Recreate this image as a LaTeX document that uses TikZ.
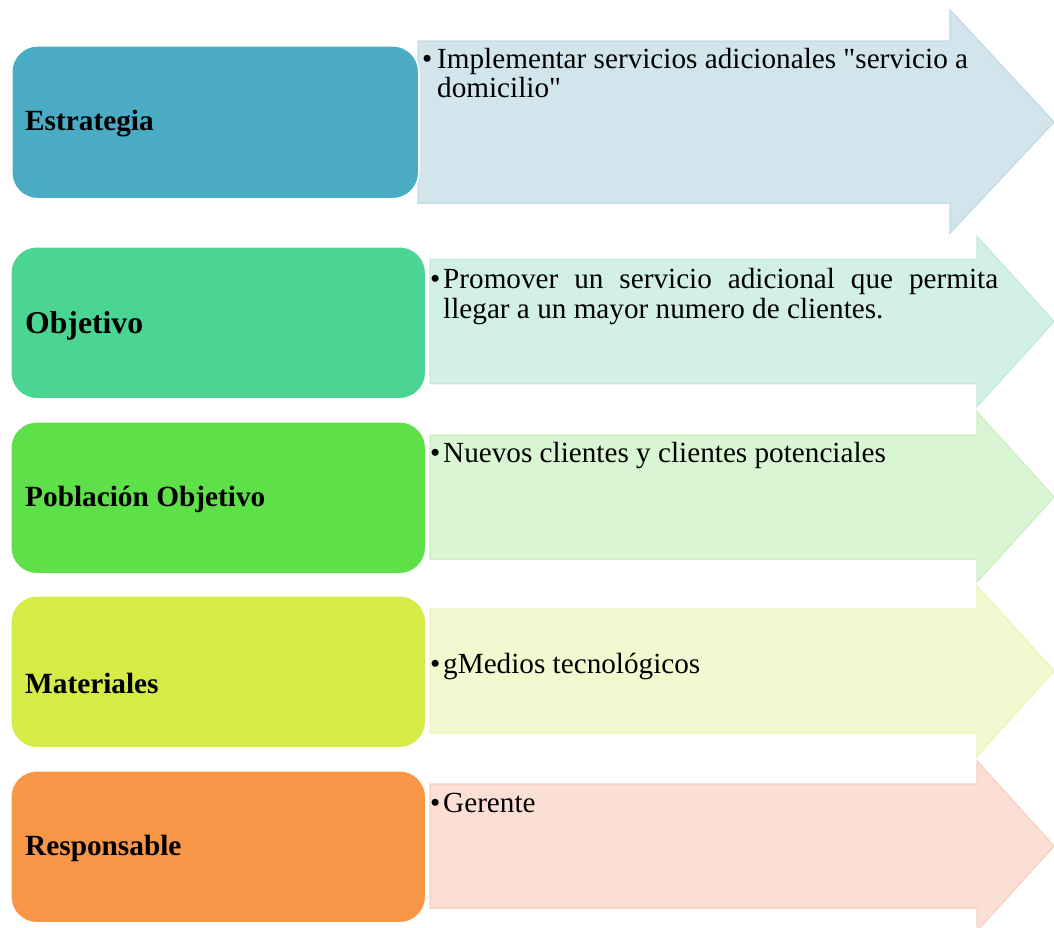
\documentclass[tikz,border=0pt]{standalone}
\usepackage{fontspec}
\setmainfont{Liberation Serif}[Ligatures=TeXOff]
% row colours: strong box colour and pale arrow colour
\definecolor{boxA}{HTML}{4AABC5}\definecolor{arrA}{HTML}{D2E4EC}\definecolor{edgeA}{HTML}{C6DDE8}
\definecolor{boxB}{HTML}{4AD592}\definecolor{arrB}{HTML}{D3F0E4}\definecolor{edgeB}{HTML}{C6EBDB}
\definecolor{boxC}{HTML}{5EE048}\definecolor{arrC}{HTML}{D9F5D3}\definecolor{edgeC}{HTML}{CDF1C5}
\definecolor{boxD}{HTML}{D5EC47}\definecolor{arrD}{HTML}{F4F8D0}\definecolor{edgeD}{HTML}{EEF4BE}
\definecolor{boxE}{HTML}{F79646}\definecolor{arrE}{HTML}{FBDFD4}\definecolor{edgeE}{HTML}{F8D3C3}
\begin{document}
\begin{tikzpicture}[x=1pt,y=-1pt,
  labelbox/.style={draw=white, line width=1.5pt, rounded corners=26pt,
    anchor=north west, inner sep=0pt, minimum width=415pt, minimum height=152pt},
  bigarrow/.style={line width=1.5pt, line join=miter},
  lbl/.style={anchor=base west, inner sep=0pt, font=\fontsize{29.3}{30}\selectfont\bfseries},
  txt/.style={anchor=base west, inner sep=0pt, font=\fontsize{29.2}{30}\selectfont},
  bul/.style={anchor=base west, inner sep=0pt, font=\fontsize{29.2}{30}\selectfont},
  ]
\useasboundingbox (0,0) rectangle (1054,927);

% ---- arrows ----
\filldraw[bigarrow, fill=arrA, draw=edgeA]
  (418,41) -- (950,41) -- (950,10) -- (1054,122) -- (950,233) -- (950,203) -- (418,203) -- cycle;
\foreach \c/\f/\e in {321.5/arrB/edgeB, 497/arrC/edgeC, 671/arrD/edgeD, 846/arrE/edgeE}{
  \filldraw[bigarrow, fill=\f, draw=\e]
    (430,\c-62) -- (977,\c-62) -- (977,\c-85) -- (1054,\c) -- (977,\c+85)
    -- (977,\c+62) -- (430,\c+62) -- cycle;
}

% ---- label boxes ----
\node[labelbox, fill=boxA, minimum width=407pt, minimum height=153pt] (b1) at (11,45) {};
\node[labelbox, fill=boxB] (b2) at (10,246) {};
\node[labelbox, fill=boxC] (b3) at (10,421) {};
\node[labelbox, fill=boxD] (b4) at (10,595) {};
\node[labelbox, fill=boxE] (b5) at (10,770) {};

\node[lbl] (l1) at (25,130) {Estrategia};
\node[lbl, font=\fontsize{31.7}{32}\selectfont\bfseries] (l2) at (25,333) {Objetivo};
\node[lbl] (l3) at (25,506) {Población Objetivo};
\node[lbl] (l4) at (25,693) {Materiales};
\node[lbl] (l5) at (25,855) {Responsable};

% ---- bullet texts ----
\node[bul] (p1) at (422,68) {•};
\node[txt] (t1a) at (437,68) {Implementar servicios adicionales "servicio a};
\node[txt] (t1b) at (437,97) {domicilio"};

\node[bul] (p2) at (430,288) {•};
\node[txt] (t2a) at (443,288) {\makebox[555pt][s]{Promover un servicio adicional que permita}};
\node[txt] (t2b) at (443,318) {llegar a un mayor numero de clientes.};

\node[bul] (p3) at (430,462) {•};
\node[txt] (t3) at (443,462) {Nuevos clientes y clientes potenciales};

\node[bul] (p4) at (430,673) {•};
\node[txt] (t4) at (443,673) {gMedios tecnológicos};

\node[bul] (p5) at (430,812) {•};
\node[txt] (t5) at (443,812) {Gerente};
\end{tikzpicture}
\end{document}
